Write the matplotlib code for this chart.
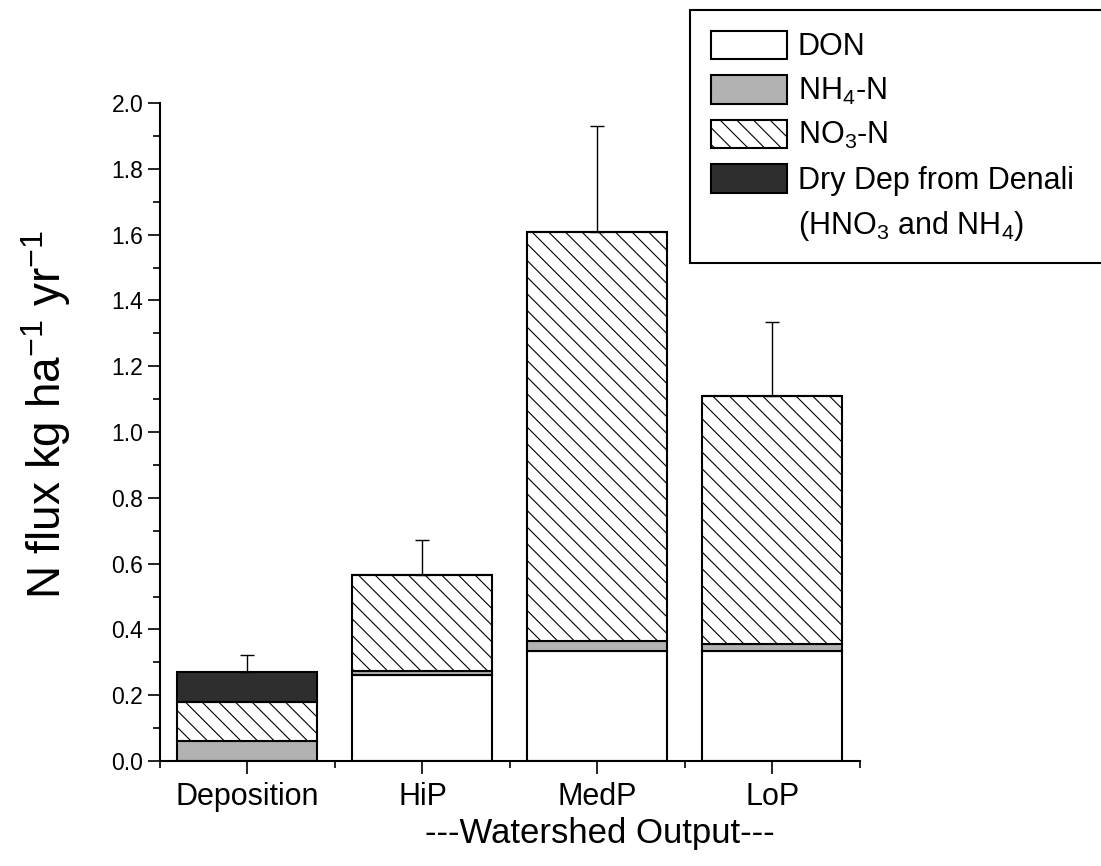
import numpy as np
import matplotlib
matplotlib.use("Agg")
import matplotlib.pyplot as plt
import matplotlib.patches as mpatches
from matplotlib.ticker import MultipleLocator, FixedLocator

plt.rcParams['font.family'] = ['Liberation Sans', 'DejaVu Sans']
plt.rcParams['mathtext.fontset'] = 'custom'
plt.rcParams['mathtext.rm'] = 'Liberation Sans'
plt.rcParams['mathtext.it'] = 'Liberation Sans:italic'
plt.rcParams['hatch.linewidth'] = 0.8

# values (kg N ha-1 yr-1)
sites = ['Deposition', 'HiP', 'MedP', 'LoP']
don = [0.0, 0.262, 0.334, 0.334]
nh4 = [0.062, 0.011, 0.031, 0.021]
no3 = [0.116, 0.292, 1.244, 0.756]
dry_dep = [0.094, 0.0, 0.0, 0.0]
err_up = [0.05, 0.107, 0.32, 0.223]

x = np.arange(1, len(sites) + 1)
don = np.array(don)
nh4 = np.array(nh4)
no3 = np.array(no3)
dry_dep = np.array(dry_dep)

fig = plt.figure(figsize=(11.01, 8.66), dpi=100)
ax = fig.add_axes([0.1453, 0.1212, 0.6358, 0.7598])

w = 0.8
kw = dict(width=w, edgecolor='black', linewidth=1.5)
b1 = ax.bar(x, don, color='white', label='DON', **kw)
b2 = ax.bar(x, nh4, bottom=don, color='#b2b2b2', label=r'NH$_\mathregular{4}$-N', **kw)
b3 = ax.bar(x, no3, bottom=don + nh4, color='white', hatch='\\\\', label=r'NO$_\mathregular{3}$-N', **kw)
b4 = ax.bar(x, dry_dep, bottom=don + nh4 + no3, color='#2e2e2e', label='Dry Dep from Denali   ', **kw)

total = don + nh4 + no3 + dry_dep
ax.errorbar(x, total, yerr=[np.zeros(len(x)), err_up], fmt='none',
            ecolor='black', elinewidth=1, capsize=5, capthick=1)

ax.set_xlim(0.5, 4.5)
ax.set_ylim(0, 2.0)
ax.set_xticks(x)
ax.set_xticklabels(sites, fontsize=22)
ax.xaxis.set_minor_locator(FixedLocator([0.5, 1.5, 2.5, 3.5, 4.5]))
ax.yaxis.set_major_locator(MultipleLocator(0.2))
ax.yaxis.set_minor_locator(MultipleLocator(0.1))
ax.yaxis.set_major_formatter(matplotlib.ticker.FormatStrFormatter('%.1f'))
ax.tick_params(axis='y', labelsize=16.5, pad=3)
ax.tick_params(axis='x', pad=6)
ax.tick_params(which='major', direction='out', length=9, width=1.2)
ax.tick_params(which='minor', direction='out', length=5, width=1.2)

for s in ['top', 'right']:
    ax.spines[s].set_visible(False)
for s in ['left', 'bottom']:
    ax.spines[s].set_linewidth(1.5)

fig.text(46 / 1101, 1 - 414 / 866, r'N flux kg ha$^\mathregular{-1}$ yr$^\mathregular{-1}$',
         rotation=90, ha='center', va='center', fontsize=33)
fig.text(600 / 1101, 1 - 843 / 866, '---Watershed Output---',
         ha='center', va='baseline', fontsize=25)

blank = mpatches.Patch(facecolor='none', edgecolor='none',
                       label=r'(HNO$_\mathregular{3}$ and NH$_\mathregular{4}$)')
leg = ax.legend(handles=[b1, b2, b3, b4, blank], loc='upper left',
                bbox_to_anchor=(690 / 1101, 1 - 10 / 866), bbox_transform=fig.transFigure,
                borderaxespad=0, fontsize=22, fancybox=False, framealpha=1,
                edgecolor='black', handlelength=2.5, handleheight=1.05,
                handletextpad=0.35, labelspacing=0.42, borderpad=0.68)
leg.get_frame().set_linewidth(1.5)

fig.savefig('out.png', dpi=100)
